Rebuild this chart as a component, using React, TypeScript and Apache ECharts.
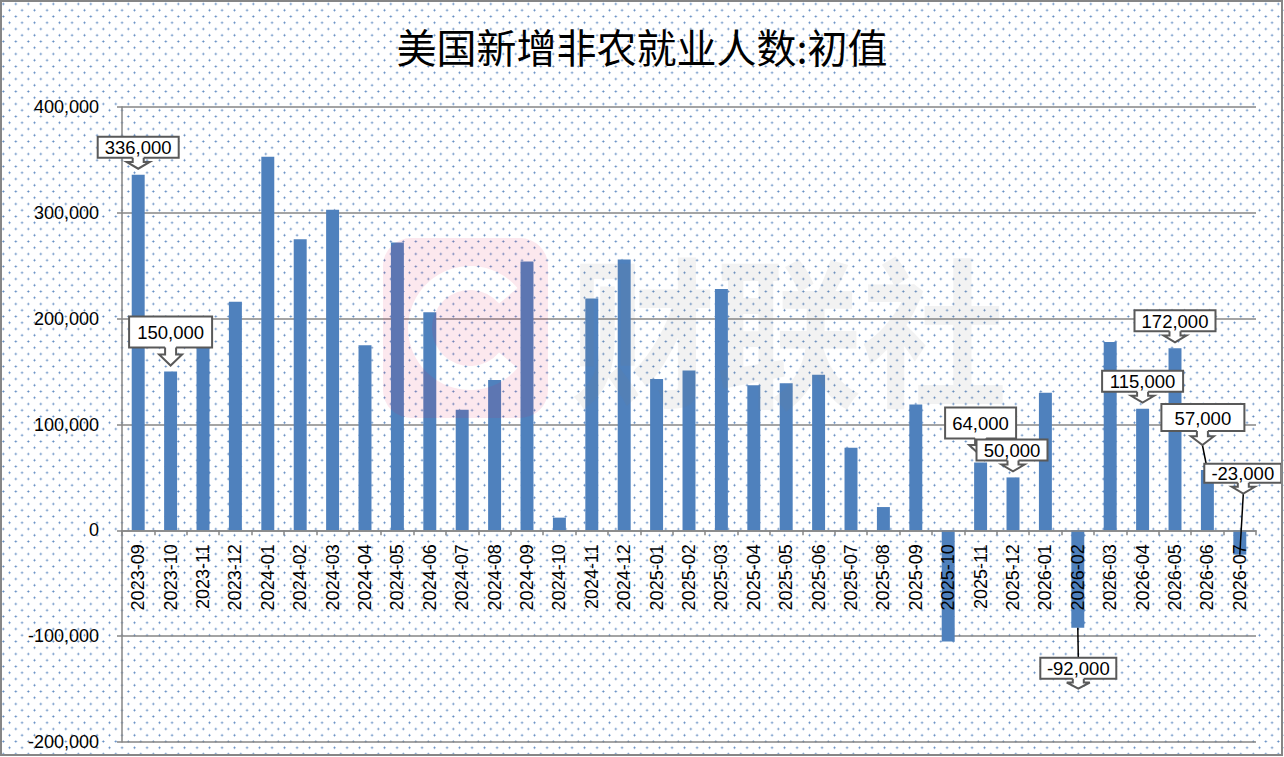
import React, { useEffect, useRef } from "react";
import * as echarts from "echarts";

// ---------- data ----------
const categories = [
  "2023-09", "2023-10", "2023-11", "2023-12",
  "2024-01", "2024-02", "2024-03", "2024-04", "2024-05", "2024-06",
  "2024-07", "2024-08", "2024-09", "2024-10", "2024-11", "2024-12",
  "2025-01", "2025-02", "2025-03", "2025-04", "2025-05", "2025-06",
  "2025-07", "2025-08", "2025-09", "2025-10", "2025-11", "2025-12",
  "2026-01", "2026-02", "2026-03", "2026-04", "2026-05", "2026-06", "2026-07",
];

const values = [
  336000, 150000, 199000, 216000,
  353000, 275000, 303000, 175000, 272000, 206000,
  114000, 142000, 254000, 12000, 219000, 256000,
  143000, 151000, 228000, 137000, 139000, 147000,
  78000, 22000, 119000, -105000, 64000, 50000,
  130000, -92000, 178000, 115000, 172000, 57000, -23000,
];

// categories that carry a callout label
const calloutIndices = [0, 1, 26, 27, 29, 31, 32, 33, 34];

const yMin = -200000;
const yMax = 400000;
const yInterval = 100000;

const titleText = "美国新增非农就业人数:初值";
const watermarkText = "财联社";

// ---------- layout / styles ----------
const GRID = { left: 122, right: 28, top: 107, bottom: 15 };
const CHART_H = 757;
const plotH = CHART_H - GRID.top - GRID.bottom;
// the category axis sits on the value 0 line
const xAxisOffset = -plotH * (0 - yMin) / (yMax - yMin);

type CalloutStyle = {
  dx: number; dy: number; w: number; h: number;
  tip: [number, number];
  leader?: "tipToBar" | "barToBox";
};
const calloutStyles: Record<number, CalloutStyle> = {
  0: { dx: 0, dy: -27.5, w: 81, h: 21, tip: [0, -6] },
  1: { dx: 0, dy: -39.5, w: 83, h: 31, tip: [0, -6] },
  26: { dx: 0, dy: -39.5, w: 71, h: 31, tip: [0, -7] },
  27: { dx: -1, dy: -27.5, w: 71, h: 21, tip: [0, -6] },
  29: { dx: 0.5, dy: 40.5, w: 76, h: 21, tip: [0.5, 61], leader: "barToBox" },
  31: { dx: 0, dy: -27.5, w: 81, h: 21, tip: [0, -6] },
  32: { dx: 0, dy: -27.5, w: 81, h: 21, tip: [0, -6] },
  33: { dx: -4.5, dy: -52.5, w: 83, h: 27, tip: [-5, -25], leader: "tipToBar" },
  34: { dx: 3, dy: -81.5, w: 77, h: 19, tip: [3.5, -61], leader: "tipToBar" },
};

const FONT = "Liberation Sans";
const GRAY = "#868686";

const fmt = (v: number) => v.toLocaleString("en-US");

// watermark logo: rounded square with a C-shaped hole
const logoPath =
  "M28,0 H137 A28,28 0 0 1 165,28 V152 A28,28 0 0 1 137,180 H28 A28,28 0 0 1 0,152 V28 A28,28 0 0 1 28,0 Z " +
  "M134.5,50.1 A62,62 0 1 0 134.5,129.9 L116.1,114.4 A38,38 0 1 1 116.1,65.6 Z";

let registered = false;
function ensureShape() {
  if (registered) return;
  registered = true;
  echarts.graphic.registerShape("clsLogo", echarts.graphic.extendPath(logoPath, {}) as any);
}

export default function App() {
  const ref = useRef<HTMLDivElement>(null);

  useEffect(() => {
    if (!ref.current) return;
    ensureShape();
    const chart = echarts.init(ref.current, undefined, { renderer: "svg" });

    const renderCallout = (params: any, api: any) => {
      const catIdx = api.value(0);
      const val = api.value(1);
      const st = calloutStyles[catIdx];
      const p = api.coord([catIdx, val]);
      const px = p[0];
      const py = p[1];
      const cx = px + st.dx;
      const cy = py + st.dy;
      const boxTop = cy - st.h / 2;
      const boxBottom = cy + st.h / 2;
      const tx = px + st.tip[0];
      const ty = py + st.tip[1];
      const L = ty - boxBottom;
      const ys = boxBottom + L * 0.38;
      const sw = 5.5;
      const hw = 11.5;
      const children: any[] = [];
      if (st.leader === "tipToBar") {
        children.push({
          type: "line",
          shape: { x1: tx, y1: ty, x2: px, y2: py },
          style: { stroke: "#000", lineWidth: 1.5 },
        });
      } else if (st.leader === "barToBox") {
        children.push({
          type: "line",
          shape: { x1: px, y1: py, x2: cx, y2: boxTop },
          style: { stroke: "#000", lineWidth: 1.5 },
        });
      }
      children.push({
        type: "rect",
        shape: { x: cx - st.w / 2, y: boxTop, width: st.w, height: st.h },
        style: { fill: "#fff", stroke: "#595959", lineWidth: 2 },
      });
      children.push({
        type: "polygon",
        shape: {
          points: [
            [tx - sw, boxBottom - 1.5], [tx - sw, ys], [tx - hw, ys], [tx, ty],
            [tx + hw, ys], [tx + sw, ys], [tx + sw, boxBottom - 1.5],
          ],
        },
        style: { fill: "#fff" },
      });
      children.push({
        type: "polyline",
        shape: {
          points: [
            [tx - sw, boxBottom], [tx - sw, ys], [tx - hw, ys], [tx, ty],
            [tx + hw, ys], [tx + sw, ys], [tx + sw, boxBottom],
          ],
        },
        style: { fill: "none", stroke: "#595959", lineWidth: 2 },
      });
      children.push({
        type: "text",
        style: {
          text: fmt(val),
          x: cx,
          y: cy + 0.5,
          align: "center",
          verticalAlign: "middle",
          fill: "#000",
          fontSize: 18.5,
          fontFamily: FONT,
        },
      });
      return { type: "group", children };
    };

    const option: any = {
      animation: false,
      backgroundColor: "transparent",
      title: {
        text: titleText,
        left: "center",
        top: 21,
        textStyle: {
          fontFamily: "Noto Sans CJK SC",
          fontSize: 40,
          fontWeight: "normal",
          color: "#000",
        },
      },
      grid: {
        ...GRID,
        containLabel: false,
        outerBoundsMode: "none",
      },
      xAxis: {
        type: "category",
        data: categories,
        z: 3,
        position: "bottom",
        offset: xAxisOffset,
        boundaryGap: true,
        axisLine: { show: true, onZero: false, lineStyle: { color: GRAY, width: 1.5 } },
        axisTick: { show: true, length: 5, interval: 0, alignWithLabel: false, lineStyle: { color: GRAY, width: 1.5 } },
        axisLabel: {
          interval: 0,
          rotate: 90,
          margin: 14,
          color: "#000",
          fontFamily: FONT,
          fontSize: 18,
          hideOverlap: false,
        },
        splitLine: { show: false },
      },
      yAxis: {
        type: "value",
        min: yMin,
        max: yMax,
        interval: yInterval,
        axisLine: { show: true, lineStyle: { color: GRAY, width: 1.5 } },
        axisTick: { show: true, length: 5, lineStyle: { color: GRAY, width: 1.5 } },
        axisLabel: {
          margin: 23,
          color: "#000",
          fontFamily: FONT,
          fontSize: 18,
          formatter: (v: number) => fmt(v),
        },
        splitLine: { show: true, lineStyle: { color: GRAY, width: 1.5 } },
      },
      series: [
        {
          type: "bar",
          data: values,
          barWidth: "40%",
          itemStyle: { color: "#4f81bd" },
          z: 2,
        },
        {
          type: "custom",
          z: 5,
          silent: true,
          clip: false,
          encode: { x: 0, y: 1 },
          data: calloutIndices.map((i) => [i, values[i]]),
          renderItem: renderCallout,
        },
      ],
      graphic: [
        {
          type: "clsLogo",
          x: 383,
          y: 238,
          silent: true,
          z: 100,
          style: { fill: "rgba(230,30,90,0.10)" },
        },
        {
          type: "text",
          x: 570,
          y: 243,
          scaleX: 0.9,
          silent: true,
          z: 100,
          style: {
            text: watermarkText,
            fontFamily: "Noto Sans CJK SC",
            fontWeight: "bold",
            fontSize: 162,
            fill: "rgba(128,128,128,0.10)",
            verticalAlign: "top",
          },
        },
        {
          type: "rect",
          silent: true,
          z: 100,
          shape: { x: 1, y: 1, width: 1281, height: 754 },
          style: { fill: "none", stroke: GRAY, lineWidth: 2 },
        },
      ],
    };

    chart.setOption(option);
    return () => chart.dispose();
  }, []);

  const dot = "radial-gradient(circle, rgba(70,120,185,0.9) 0.75px, rgba(70,120,185,0) 1.25px)";
  return (
    <div
      ref={ref}
      style={{
        position: "absolute",
        left: 0,
        top: 0,
        width: 1284,
        height: CHART_H,
        backgroundColor: "#fff",
        backgroundImage: `${dot}, ${dot}`,
        backgroundSize: "12.5px 12.5px, 12.5px 12.5px",
        backgroundPosition: "-2.95px -2.25px, 3.3px 4px",
      }}
    />
  );
}
